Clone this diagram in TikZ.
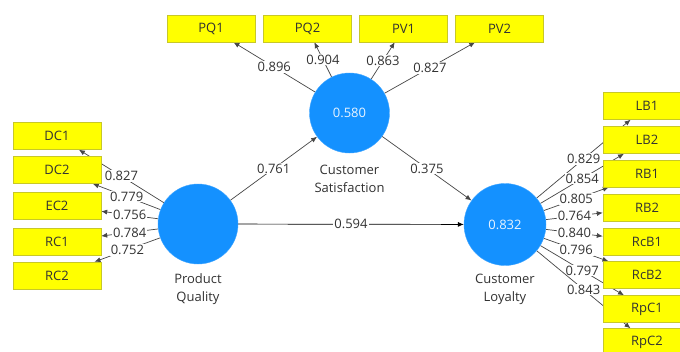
\documentclass[tikz,border=0pt]{standalone}
\usepackage{fontspec}
\setmainfont{Open Sans}
\usetikzlibrary{arrows.meta}
\pgfdeclarelayer{bg}
\pgfsetlayers{bg,main}
\definecolor{boxyellow}{RGB}{255,255,0}
\definecolor{boxedge}{RGB}{200,200,40}
\definecolor{lvblue}{RGB}{20,145,255}
\definecolor{txt}{RGB}{50,50,50}
\definecolor{lin}{RGB}{70,70,70}
\tikzset{
  ind/.style={draw=boxedge, fill=boxyellow, minimum width=88pt, minimum height=27pt, inner sep=0pt, font=\fontsize{13}{15}\selectfont, text=txt},
  lv/.style={circle, fill=lvblue, draw=lvblue!80, minimum size=80pt, inner sep=0pt, text=white!90!lvblue, font=\fontsize{13}{15}\selectfont},
  lvlabel/.style={align=center, text=txt, font=\fontsize{13}{18}\selectfont},
  ld/.style={draw=lin, line width=0.7pt, -{Latex[length=6pt,width=5pt]}},
  wt/.style={midway, fill=white, inner sep=1pt, text=txt, font=\fontsize{13}{15}\selectfont}
}
\begin{document}
\begin{tikzpicture}[x=1pt,y=-1pt]
\useasboundingbox (0,0) rectangle (680,351);
% latent variables
\node[lv] (pq) at (198,224) {};
\node[lv] (cs) at (349.5,113) {0.580};
\node[lv, minimum size=82pt] (cl) at (505,224.5) {0.832};
\node[lvlabel] (pqlab) at (198,289) {Product\\Quality};
\node[lvlabel] (cslab) at (349.5,179) {Customer\\Satisfaction};
\node[lvlabel] (cllab) at (505,289) {Customer\\Loyalty};
% top indicators
\node[ind] (pq1) at (211,28.5) {PQ1};
\node[ind] (pq2) at (307.5,28.5) {PQ2};
\node[ind] (pv1) at (403.5,28.5) {PV1};
\node[ind] (pv2) at (499.5,28.5) {PV2};
% left indicators
\node[ind] (dc1) at (57,136) {DC1};
\node[ind] (dc2) at (57,170) {DC2};
\node[ind] (ec2) at (57,205.5) {EC2};
\node[ind] (rc1) at (57,241.5) {RC1};
\node[ind] (rc2) at (57,275.5) {RC2};
% right indicators
\node[ind] (lb1) at (647,106) {LB1};
\node[ind] (lb2) at (647,140) {LB2};
\node[ind] (rb1) at (647,173.5) {RB1};
\node[ind] (rb2) at (647,207.5) {RB2};
\node[ind] (rcb1) at (647,241.5) {RcB1};
\node[ind] (rcb2) at (647,275) {RcB2};
\node[ind] (rpc1) at (647,309) {RpC1};
\node[ind] (rpc2) at (647,342) {RpC2};
\begin{pgfonlayer}{bg}
\fill[white] (0,0) rectangle (680,351);
\draw[ld] (cs) -- (pq1) node[wt] {0.896};
\draw[ld] (cs) -- (pq2) node[wt] {0.904};
\draw[ld] (cs) -- (pv1) node[wt] {0.863};
\draw[ld] (cs) -- (pv2) node[wt] {0.827};
\draw[ld] (pq) -- (dc1) node[wt] {0.827};
\draw[ld] (pq) -- (dc2) node[wt] {0.779};
\draw[ld] (pq) -- (ec2) node[wt] {0.756};
\draw[ld] (pq) -- (rc1) node[wt] {0.784};
\draw[ld] (pq) -- (rc2) node[wt] {0.752};
\draw[ld] (cl) -- (lb1) node[wt] {0.829};
\draw[ld] (cl) -- (lb2) node[wt] {0.854};
\draw[ld] (cl) -- (rb1) node[wt] {0.805};
\draw[ld] (cl) -- (rb2) node[wt] {0.764};
\draw[ld] (cl) -- (rcb1) node[wt] {0.840};
\draw[ld] (cl) -- (rcb2) node[wt] {0.796};
\draw[ld] (cl) -- (rpc1) node[wt] {0.797};
\draw[ld] (cl) -- (rpc2) node[wt] {0.843};
\draw[ld] (pq) -- (cs) node[wt] {0.761};
\draw[ld] (cs) -- (cl) node[wt] {0.375};
\draw[ld, draw=black] (pq) -- (cl) node[wt] {0.594};
\end{pgfonlayer}
\end{tikzpicture}
\end{document}
